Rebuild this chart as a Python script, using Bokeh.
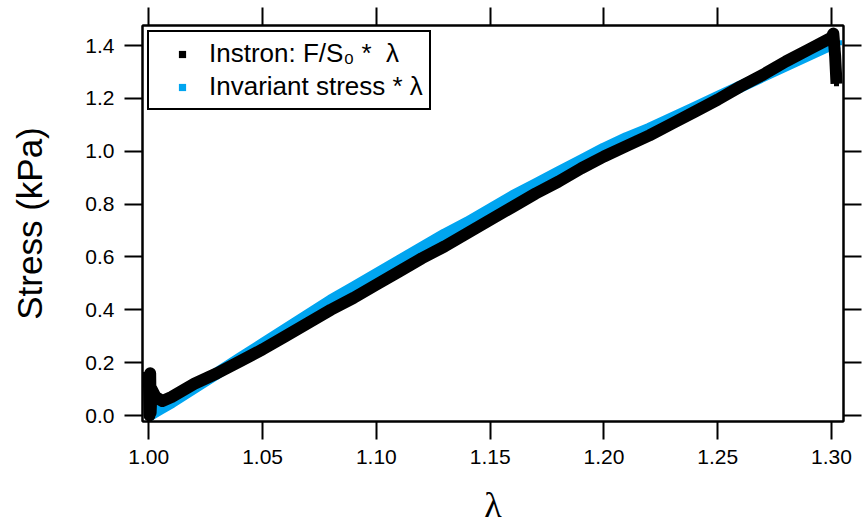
from bokeh.plotting import figure
from bokeh.models import (LinearAxis, FixedTicker, PrintfTickFormatter, Range1d,
                          Legend, LegendItem, ColumnDataSource)
from bokeh.embed import file_html
from bokeh.resources import INLINE

# ---- data ----
lam_instron = [1.0000, 1.0003, 1.0006, 1.0008, 1.0012, 1.003, 1.006, 1.010,
               1.020, 1.030, 1.040, 1.050, 1.060, 1.070, 1.080, 1.090, 1.100,
               1.110, 1.120, 1.130, 1.140, 1.150, 1.160, 1.170, 1.180, 1.190,
               1.200, 1.210, 1.220, 1.230, 1.240, 1.250, 1.260, 1.270, 1.280,
               1.290, 1.300, 1.3008, 1.3016, 1.3022]
stress_instron = [0.165, 0.0, 0.16, 0.01, 0.10, 0.07, 0.055, 0.07,
                  0.12, 0.16, 0.205, 0.25, 0.30, 0.35, 0.40, 0.445, 0.495,
                  0.545, 0.595, 0.64, 0.69, 0.74, 0.79, 0.84, 0.885, 0.935,
                  0.98, 1.02, 1.06, 1.105, 1.15, 1.195, 1.245, 1.29, 1.34,
                  1.385, 1.43, 1.445, 1.36, 1.255]

lam_invariant = [1.000, 1.005, 1.010, 1.020, 1.030, 1.040, 1.050, 1.060, 1.070,
                 1.080, 1.090, 1.100, 1.110, 1.120, 1.130, 1.140, 1.150, 1.160,
                 1.170, 1.180, 1.190, 1.200, 1.210, 1.220, 1.230, 1.240, 1.250,
                 1.260, 1.270, 1.280, 1.290, 1.300, 1.3035]
stress_invariant = [0.0, 0.025, 0.05, 0.105, 0.16, 0.215, 0.27, 0.325, 0.38,
                    0.435, 0.485, 0.535, 0.585, 0.635, 0.685, 0.73, 0.78, 0.83,
                    0.875, 0.92, 0.965, 1.01, 1.05, 1.085, 1.125, 1.165, 1.205,
                    1.245, 1.285, 1.325, 1.365, 1.405, 1.41]

x_ticks = [1.00, 1.05, 1.10, 1.15, 1.20, 1.25, 1.30]
y_ticks = [0.0, 0.2, 0.4, 0.6, 0.8, 1.0, 1.2, 1.4]

label_instron = "Instron: F/S\u2080 *  \u03bb"
label_invariant = "Invariant stress * \u03bb"
x_label = "\u03bb"
y_label = "Stress (kPa)"

BLUE = "#00A5F0"
FONT = "Liberation Sans"

src_i = ColumnDataSource(dict(x=lam_instron, y=stress_instron))
src_v = ColumnDataSource(dict(x=lam_invariant, y=stress_invariant))

p = figure(width=862, height=529, output_backend="svg", toolbar_location=None,
           x_range=Range1d(0.99723, 1.30527), y_range=Range1d(-0.0227, 1.4757),
           min_border_left=142, min_border_right=19, min_border_top=25,
           min_border_bottom=108, x_axis_label=x_label, y_axis_label=y_label)
p.grid.visible = False
p.outline_line_color = "black"
p.outline_line_width = 2
p.outline_line_alpha = 1.0
p.background_fill_color = "white"
p.border_fill_color = "white"

# hidden square markers (for the legend), drawn under the lines
s_v = p.scatter("x", "y", source=src_v, marker="square", size=5,
                fill_color=BLUE, line_color=None)
s_i = p.scatter("x", "y", source=src_i, marker="square", size=5,
                fill_color="black", line_color=None)

p.line("x", "y", source=src_v, line_color=BLUE, line_width=12, line_join="round")
p.line("x", "y", source=src_i, line_color="black", line_width=12, line_join="round")


def style_axis(ax, show_labels=True):
    ax.major_tick_out = 18
    ax.major_tick_in = 0
    ax.major_tick_line_width = 2
    ax.major_tick_line_color = "black"
    ax.minor_tick_line_color = None
    ax.axis_line_width = 2
    ax.axis_line_color = "black"
    ax.major_label_text_font = FONT
    ax.major_label_text_font_size = "21px"
    ax.major_label_text_color = "black"
    ax.major_label_standoff = 10
    if not show_labels:
        ax.major_label_text_font_size = "0px"
        ax.major_label_standoff = 0


xa = p.xaxis[0]
xa.ticker = FixedTicker(ticks=x_ticks)
xa.formatter = PrintfTickFormatter(format="%.2f")
style_axis(xa)
xa.axis_label_text_font = "Liberation Serif"
xa.axis_label_text_font_size = "36px"
xa.axis_label_text_font_style = "normal"
xa.axis_label_text_color = "black"
xa.axis_label_standoff = 18

ya = p.yaxis[0]
ya.ticker = FixedTicker(ticks=y_ticks)
ya.formatter = PrintfTickFormatter(format="%.1f")
style_axis(ya)
ya.axis_label_text_font = FONT
ya.axis_label_text_font_size = "35px"
ya.axis_label_text_font_style = "normal"
ya.axis_label_text_color = "black"
ya.axis_label_standoff = 33

top = LinearAxis(ticker=FixedTicker(ticks=x_ticks),
                 major_label_overrides={t: "" for t in x_ticks})
style_axis(top, show_labels=False)
p.add_layout(top, "above")

right = LinearAxis(ticker=FixedTicker(ticks=y_ticks),
                   major_label_overrides={t: "" for t in y_ticks})
style_axis(right, show_labels=False)
p.add_layout(right, "right")

legend = Legend(items=[LegendItem(label=label_instron, renderers=[s_i]),
                       LegendItem(label=label_invariant, renderers=[s_v])],
                location="top_left")
legend.margin = 5
legend.padding = 6
legend.spacing = 2
legend.glyph_width = 54
legend.glyph_height = 18
legend.label_height = 30
legend.label_standoff = 0
legend.label_text_font = FONT
legend.label_text_font_size = "26px"
legend.label_text_color = "black"
legend.border_line_color = "black"
legend.border_line_width = 2
legend.border_line_alpha = 1.0
legend.background_fill_color = "white"
legend.background_fill_alpha = 1.0
p.add_layout(legend)

open("out.html", "w").write(file_html(p, INLINE))
